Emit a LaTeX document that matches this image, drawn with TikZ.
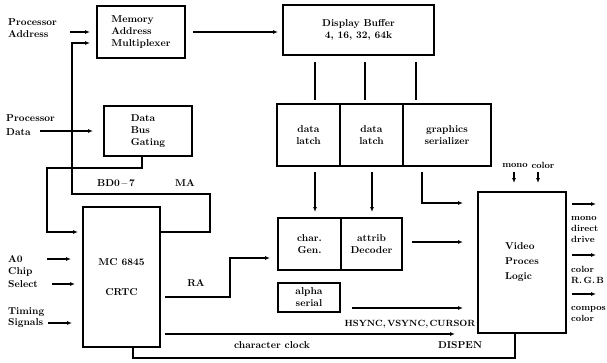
\documentclass[tikz,border=0pt]{standalone}
\usetikzlibrary{arrows.meta,positioning}

\tikzset{
  blk/.style={draw,line width=1.2pt,outer sep=0pt,inner sep=2pt,font=\bfseries,align=center},
  txt/.style={font=\bfseries,align=left,inner sep=0pt},
  sig/.style={line width=1.1pt,-{Latex[length=5pt,width=4pt]}},
  wire/.style={line width=1.1pt},
}

\begin{document}
\begin{tikzpicture}[x=1pt,y=-1pt]
  \useasboundingbox (0,0) rectangle (607,362);

  % blocks
  \node[blk,align=left,minimum width=88pt,minimum height=52pt] (mam) at (141,32) {Memory\\Address\\Multiplexer};
  \node[blk,minimum width=151pt,minimum height=50pt] (buf) at (358.5,30) {Display Buffer\\4,~16,~32,~64k};
  \node[blk,align=left,minimum width=88pt,minimum height=50pt] (dbg) at (148,131) {Data\\Bus\\Gating};
  \node[blk,minimum width=63pt,minimum height=62pt] (dl1) at (308.5,135) {data\\latch};
  \node[blk,minimum width=63pt,minimum height=62pt,right=0pt of dl1] (dl2) {data\\latch};
  \node[blk,minimum width=88pt,minimum height=62pt,right=0pt of dl2] (gser) {graphics\\serializer};
  \node[blk,minimum width=63pt,minimum height=52pt] (cgen) at (309.5,244) {char.\\Gen.};
  \node[blk,minimum width=61pt,minimum height=52pt,right=0pt of cgen] (attr) {attrib\\Decoder};
  \node[blk,minimum width=62pt,minimum height=29pt] (alpha) at (309,297.5) {alpha\\serial};
  \node[blk,minimum width=77pt,minimum height=140pt] (crtc) at (121.5,277) {MC 6845\\[18pt]CRTC};
  \node[blk,align=left,minimum width=88pt,minimum height=141pt,font=\bfseries\fontsize{10}{15}\selectfont] (video) at (522,262.5) {Video\\Proces\\Logic};

  % labels
  \node[txt,anchor=west] (lpa) at (8,28) {Processor\\Address};
  \node[txt,anchor=west,font=\bfseries\fontsize{10}{14}\selectfont] (lpd) at (6,125) {Processor\\Data};
  \node[txt,anchor=west,font=\bfseries\fontsize{10}{12.5}\selectfont] (lcs) at (8,271.5) {A0\\Chip\\Select};
  \node[txt,anchor=west,font=\bfseries\fontsize{10}{11}\selectfont] (ltim) at (8,318) {Timing\\Signals};
  \node[txt] (lbd) at (116,183) {BD0\,--\,7};
  \node[txt] (lma) at (185,183) {MA};
  \node[txt] (lra) at (196,283) {RA};
  \node[txt,font=\bfseries\fontsize{9}{11}\selectfont] (lmono) at (515,165) {mono};
  \node[txt,font=\bfseries\fontsize{9}{11}\selectfont] (lcol) at (543,165) {color};
  \node[txt,anchor=west,font=\bfseries\fontsize{9}{11}\selectfont] (lo1) at (571,229) {mono\\direct\\drive};
  \node[txt,anchor=west,font=\bfseries\fontsize{9}{11.5}\selectfont] (lo2) at (571,275) {color\\R.\,G.\,B};
  \node[txt,anchor=west,font=\bfseries\fontsize{9}{11}\selectfont] (lo3) at (571,313.5) {compos\\color};
  \node[txt,font=\bfseries\fontsize{9}{11}\selectfont] (lhs) at (410,324) {HSYNC,\,VSYNC,\,CURSOR};
  \node[txt] (lclk) at (272,345) {character clock};
  \node[txt] (ldsp) at (460,345) {DISPEN};

  % address side
  \coordinate (pa) at (70,32);
  \coordinate (ma) at (210,194);
  \coordinate (ma2) at (72,194);
  \draw[sig,shorten >=7pt] (pa) -- (mam.west);
  \draw[sig,shorten <=8pt,shorten >=5pt] (mam.east) -- (buf.west |- mam.east);
  \draw[sig,shorten >=7pt] (crtc.east |- 0,232) -| (ma) -- (ma2) |- ([yshift=-11pt]mam.west);

  % data side
  \coordinate (pd) at (40,131);
  \coordinate (bd) at (47,168);
  \draw[sig,shorten >=11pt] (pd) -- (dbg.west |- pd);
  \draw[sig,shorten >=5pt] ([xshift=-6pt]dbg.south) |- (bd) |- (crtc.west |- 0,232);

  % buffer to latches
  \foreach \x in {315,365,416}
    \draw[wire,shorten <=7pt,shorten >=4pt] (buf.south -| \x,0) -- (dl1.north -| \x,0);
  \draw[sig,shorten <=6pt,shorten >=6pt] (dl1.south -| 315,0) -- (cgen.north -| 315,0);
  \draw[sig,shorten <=6pt,shorten >=6pt] (dl2.south -| 372,0) -- (attr.north -| 372,0);
  \draw[sig,shorten <=6pt,shorten >=15pt] (gser.south -| 422,0) |- (video.west |- 0,203);
  \draw[sig,shorten <=10pt,shorten >=15pt] (attr.east |- 0,242) -- (video.west |- 0,242);

  % crtc outputs
  \coordinate (ra) at (230,297);
  \coordinate (hs) at (352,308);
  \coordinate (cclk) at (455,334);
  \coordinate (dsp) at (133,358);
  \draw[sig,shorten <=5pt,shorten >=8pt] (crtc.east |- ra) -- (ra) |- (cgen.west |- 0,258);
  \draw[sig,shorten >=15pt] (hs) -- (video.west |- hs);
  \draw[sig,shorten <=5pt] (crtc.east |- cclk) -- (cclk);
  \draw[wire] (crtc.south -| dsp) -- (dsp) -| (video.south -| 515,0);

  % crtc inputs
  \foreach \xa/\y/\gap in {47/259/12, 52/284/8, 48/323/11}
    \draw[sig,shorten >=\gap pt] (\xa,\y) -- (crtc.west |- 0,\y);

  % video in / out
  \foreach \x in {514,538}
    \draw[sig,shorten >=9pt] (\x,172) -- (video.north -| \x,0);
  \foreach \y in {204,255,294}
    \draw[sig,shorten <=6pt] (video.east |- 0,\y) -- (596,\y);
\end{tikzpicture}
\end{document}
